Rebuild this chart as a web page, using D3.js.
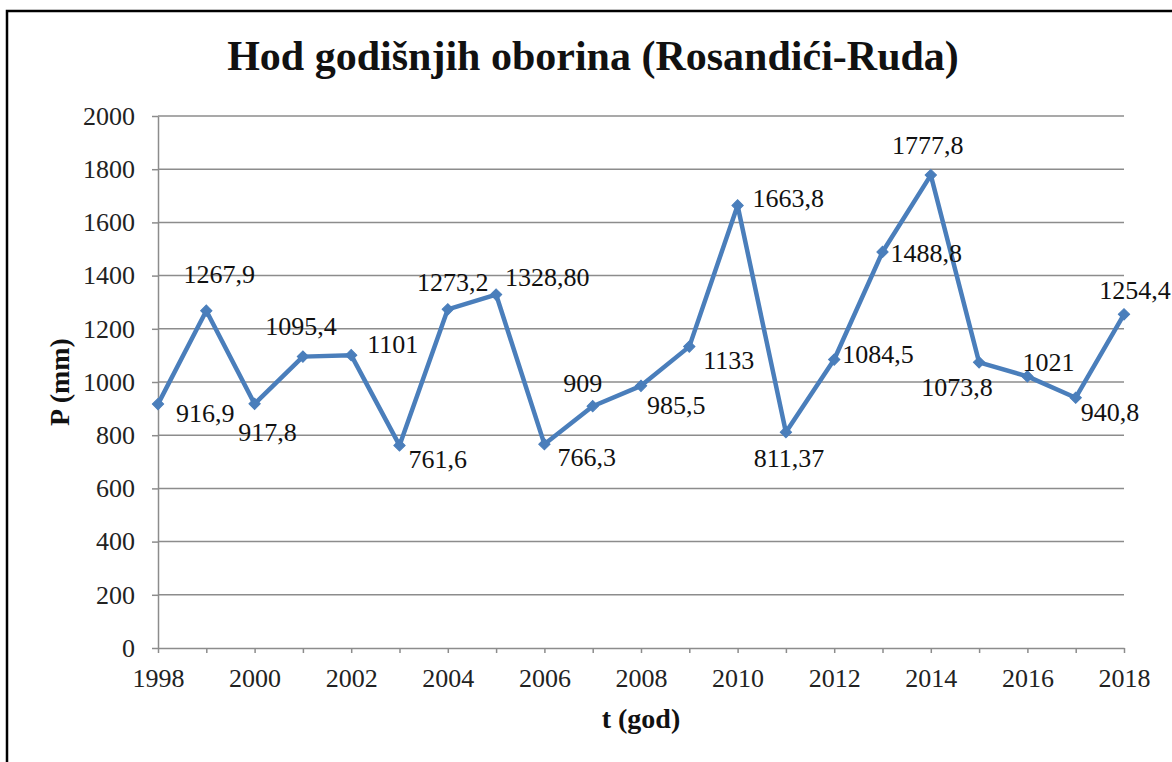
<!DOCTYPE html>
<html lang="hr">
<head>
  <meta charset="utf-8" />
  <title>Hod godišnjih oborina</title>
  <script src="https://cdn.jsdelivr.net/npm/d3@7"></script>
  <style>
    body { margin: 0; background: #fff; }
    .frame { fill: none; stroke: #000; stroke-width: 2.5px; }
    .grid line { stroke: #8c8c8c; stroke-width: 1.5px; }
    .axis path, .axis line { stroke: #8c8c8c; stroke-width: 1.5px; }
    .data-line { fill: none; stroke: #4a7ebb; stroke-width: 4.5px; stroke-linejoin: round; }
    .marker { fill: #4a7ebb; stroke: #4a7ebb; stroke-width: 1px; }
  </style>
</head>
<body>
<script>
  // data
  var years = [1998, 1999, 2000, 2001, 2002, 2003, 2004, 2005, 2006, 2007, 2008,
               2009, 2010, 2011, 2012, 2013, 2014, 2015, 2016, 2017, 2018];
  var precip = [916.9, 1267.9, 917.8, 1095.4, 1101, 761.6, 1273.2, 1328.8, 766.3, 909, 985.5,
                1133, 1663.8, 811.37, 1084.5, 1488.8, 1777.8, 1073.8, 1021, 940.8, 1254.4];
  var labels = ["916,9", "1267,9", "917,8", "1095,4", "1101", "761,6", "1273,2", "1328,80", "766,3", "909", "985,5",
                "1133", "1663,8", "811,37", "1084,5", "1488,8", "1777,8", "1073,8", "1021", "940,8", "1254,4"];
  var xTicks = [1998, 2000, 2002, 2004, 2006, 2008, 2010, 2012, 2014, 2016, 2018];
  var yTicks = [0, 200, 400, 600, 800, 1000, 1200, 1400, 1600, 1800, 2000];

  // where each value label sits relative to its point: [dx, dy, anchor]
  var labelPlace = [
    [18, 18, "start"], [13, -28, "middle"], [13, 37, "middle"], [-2, -22, "middle"], [16, -2, "start"],
    [9, 23, "start"], [5, -18, "middle"], [9, -9, "start"], [13, 22, "start"], [-10, -14, "middle"],
    [6, 28, "start"], [14, 22, "start"], [15, 2, "start"], [3, 35, "middle"], [8, 3, "start"],
    [8, 10, "start"], [-3, -21, "middle"], [-22, 34, "middle"], [21, -5, "middle"], [5, 23, "start"],
    [11, -15, "middle"]
  ];

  var serif = "'Liberation Serif', 'Times New Roman', Tinos, 'DejaVu Serif', serif";

  var w = 1172, h = 762;
  var plot = { left: 158, right: 1124, top: 116, bottom: 648 };

  var svg = d3.select("body").append("svg")
    .attr("width", w)
    .attr("height", h)
    .style("font-family", serif);

  svg.append("rect")
    .attr("class", "frame")
    .attr("x", 7)
    .attr("y", 11)
    .attr("width", 1200)
    .attr("height", 800);

  var xScale = d3.scaleLinear()
    .domain([1998, 2018])
    .range([plot.left, plot.right]);

  var yScale = d3.scaleLinear()
    .domain([0, 2000])
    .range([plot.bottom, plot.top]);

  // horizontal gridlines
  svg.append("g")
    .attr("class", "grid")
    .selectAll("line")
    .data(yTicks.slice(1))
    .enter()
    .append("line")
    .attr("x1", plot.left)
    .attr("x2", plot.right)
    .attr("y1", function(d) { return yScale(d); })
    .attr("y2", function(d) { return yScale(d); });

  var yAxis = d3.axisLeft(yScale)
    .tickValues(yTicks)
    .tickSize(6)
    .tickPadding(17)
    .tickSizeOuter(0)
    .tickFormat(d3.format("d"));

  svg.append("g")
    .attr("class", "axis")
    .attr("transform", "translate(" + plot.left + ",0)")
    .call(yAxis)
    .attr("font-family", serif)
    .attr("font-size", 26);

  var xAxis = d3.axisBottom(xScale)
    .tickValues(years)
    .tickSize(5)
    .tickSizeOuter(0)
    .tickPadding(16)
    .tickFormat(function(d) { return xTicks.indexOf(d) >= 0 ? d : ""; });

  svg.append("g")
    .attr("class", "axis")
    .attr("transform", "translate(0," + plot.bottom + ")")
    .call(xAxis)
    .attr("font-family", serif)
    .attr("font-size", 26);

  svg.selectAll(".axis text").attr("fill", "#222");

  var line = d3.line()
    .x(function(d, i) { return xScale(years[i]); })
    .y(function(d) { return yScale(d); });

  svg.append("path")
    .datum(precip)
    .attr("class", "data-line")
    .attr("d", line);

  var diamond = d3.symbol().type(d3.symbolSquare).size(64);

  svg.selectAll(".marker")
    .data(precip)
    .enter()
    .append("path")
    .attr("class", "marker")
    .attr("d", diamond)
    .attr("transform", function(d, i) {
      return "translate(" + xScale(years[i]) + "," + yScale(d) + ") rotate(45)";
    });

  svg.selectAll(".val-label")
    .data(precip)
    .enter()
    .append("text")
    .attr("class", "val-label")
    .attr("font-family", serif)
    .attr("font-size", 26)
    .attr("fill", "#111")
    .attr("x", function(d, i) { return xScale(years[i]) + labelPlace[i][0]; })
    .attr("y", function(d, i) { return yScale(d) + labelPlace[i][1]; })
    .attr("text-anchor", function(d, i) { return labelPlace[i][2]; })
    .text(function(d, i) { return labels[i]; });

  svg.append("text")
    .attr("x", 593)
    .attr("y", 70)
    .attr("text-anchor", "middle")
    .attr("font-family", serif)
    .attr("font-size", 42)
    .attr("font-weight", "bold")
    .attr("fill", "#111")
    .text("Hod godišnjih oborina (Rosandići-Ruda)");

  svg.append("text")
    .attr("transform", "translate(69,382) rotate(-90)")
    .attr("text-anchor", "middle")
    .attr("font-family", serif)
    .attr("font-size", 28)
    .attr("font-weight", "bold")
    .attr("fill", "#111")
    .text("P (mm)");

  svg.append("text")
    .attr("x", 641)
    .attr("y", 728)
    .attr("text-anchor", "middle")
    .attr("font-family", serif)
    .attr("font-size", 28)
    .attr("font-weight", "bold")
    .attr("fill", "#111")
    .text("t (god)");
</script>
</body>
</html>
